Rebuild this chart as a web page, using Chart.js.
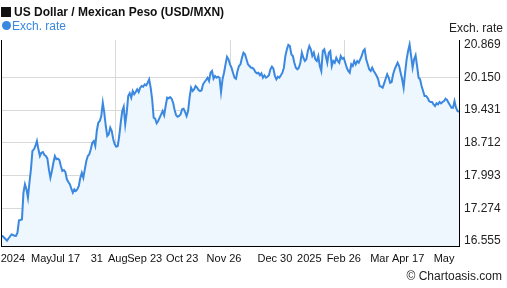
<!DOCTYPE html>
<html>
<head>
<meta charset="utf-8">
<script src="https://cdn.jsdelivr.net/npm/chart.js@4.4.1/dist/chart.umd.min.js"></script>
<style>
  body { margin: 0; background: #fff; font-family: "Liberation Sans", Arial, sans-serif; }
  #wrap { position: relative; width: 507px; height: 288px; }
  .txt { position: absolute; font-size: 12px; line-height: 14px; white-space: nowrap; }
</style>
</head>
<body>
<div id="wrap">
  <canvas id="my-chart" width="507" height="288"></canvas>
  <div class="txt" style="left:1px;top:7px;width:10px;height:10px;background:#111;"></div>
  <div class="txt" style="left:14px;top:5px;font-weight:bold;color:#111;">US Dollar / Mexican Peso (USD/MXN)</div>
  <div class="txt" style="left:2px;top:21px;width:9px;height:9px;border-radius:50%;background:#3a88e0;"></div>
  <div class="txt" style="left:12px;top:19px;color:#3a88e0;">Exch. rate</div>
  <div class="txt" style="right:4px;top:21px;color:#222;">Exch. rate</div>
  <div class="txt" style="right:5px;top:269px;color:#222;">© Chartoasis.com</div>
</div>
<script>
// USD/MXN daily rate
let rates = [
  16.665, 16.665, 16.632, 16.599, 16.562, 16.610, 16.654, 16.698, 16.687, 16.669,
  16.665, 16.737, 17.010, 17.016, 17.031, 17.615, 17.800, 17.690, 17.506, 17.835,
  18.129, 18.531, 18.568, 18.641, 18.750, 18.568, 18.421, 18.494, 18.509, 18.443,
  18.421, 18.362, 18.129, 17.945, 18.092, 18.274, 18.421, 18.349, 18.362, 18.333,
  18.202, 18.092, 18.114, 18.070, 17.910, 17.850, 17.800, 17.703, 17.615, 17.690,
  17.653, 17.690, 17.762, 17.945, 18.054, 17.945, 18.129, 18.311, 18.421, 18.458,
  18.568, 18.713, 18.750, 18.641, 18.970, 19.152, 19.190, 19.299, 19.591, 19.372,
  19.080, 18.860, 18.898, 19.042, 18.970, 18.788, 18.678, 18.625, 18.641, 18.860,
  19.152, 19.409, 19.503, 19.117, 19.372, 19.738, 19.798, 19.701, 19.848, 19.776,
  19.826, 19.885, 19.826, 19.921, 19.958, 19.943, 19.995, 19.973, 20.030, 20.105,
  19.921, 19.666, 19.262, 19.240, 19.139, 19.190, 19.262, 19.337, 19.409, 19.315,
  19.519, 19.701, 19.688, 19.716, 19.679, 19.591, 19.431, 19.315, 19.284, 19.299,
  19.337,
  19.446, 19.460, 19.387, 19.299, 19.409, 19.701, 19.921, 19.848, 19.885, 19.958,
  19.921, 19.870, 19.848, 19.864, 19.995, 20.046, 20.090, 20.140, 20.068, 20.250,
  20.287, 20.118, 20.177, 20.140, 20.162, 20.140, 19.826, 20.105, 20.250, 20.434,
  20.601, 20.544, 20.434, 20.360, 20.250, 20.140, 20.118, 20.287, 20.397, 20.434,
  20.579, 20.689, 20.654, 20.544, 20.434, 20.397, 20.360, 20.360, 20.325, 20.265,
  20.237, 20.250, 20.193, 20.237, 20.140, 20.193, 20.140, 20.162, 20.193, 20.325,
  20.382, 20.338,
  20.177, 20.105, 20.162, 20.140, 20.193, 20.250, 20.360, 20.617, 20.764, 20.860,
  20.836, 20.654, 20.617, 20.469, 20.360, 20.325, 20.360, 20.469, 20.689, 20.579,
  20.507, 20.544, 20.726, 20.836, 20.764, 20.617, 20.689, 20.544, 20.507, 20.617,
  20.397, 20.287, 20.726, 20.764, 20.617, 20.469, 20.689, 20.726, 20.397, 20.507,
  20.469, 20.579, 20.507, 20.469, 20.617, 20.557, 20.579, 20.469, 20.360, 20.287,
  20.250, 20.434, 20.397, 20.507, 20.434, 20.507, 20.469, 20.544, 20.617, 20.726,
  20.764,
  20.544, 20.434, 20.325, 20.287, 20.360, 20.287, 20.237, 20.177, 20.105, 19.958,
  19.943, 19.921, 20.017, 20.118, 20.215, 20.140, 20.030, 20.046, 20.215, 20.325,
  20.397, 20.469, 20.397, 20.250, 20.105, 19.921, 20.250, 20.544, 20.726, 20.869,
  20.617, 20.360, 20.544, 20.632, 20.397, 20.140, 20.105, 19.958, 19.848, 19.738,
  19.738, 19.701, 19.629, 19.607, 19.607, 19.556, 19.519, 19.578, 19.556, 19.607,
  19.578, 19.607, 19.629, 19.679, 19.651, 19.591, 19.534, 19.482, 19.482, 19.629,
  19.482, 19.409, 19.387
];

let xTickLabels = ["2024", "May", "Jul 17", "31", "Aug", "Sep 23", "Oct 23", "Nov 26",
                   "Dec 30", "2025", "Feb 26", "Mar", "Apr 17", "May"];
let xTickIdx = [8, 27, 43, 64, 78, 96, 121, 149, 183, 206, 229, 253, 272, 296];
let yTicks = [16.555, 17.274, 17.993, 18.712, 19.431, 20.150, 20.869];

let last = rates.length - 1;
let gridIdx = [last / 4, last / 2, last * 3 / 4];

let leftBorder = {
  id: 'leftBorder',
  afterDraw(chart) {
    let c = chart.ctx, a = chart.chartArea;
    c.save();
    c.strokeStyle = '#000';
    c.lineWidth = 1;
    c.beginPath();
    c.moveTo(a.left + 0.5, a.top);
    c.lineTo(a.left + 0.5, a.bottom);
    c.stroke();
    c.restore();
  }
};

let ctx = document.getElementById('my-chart').getContext('2d');
let chart = new Chart(ctx, {
  type: 'line',
  data: {
    labels: rates.map((v, i) => i),
    datasets: [{
      data: rates,
      borderColor: '#3a88e0',
      borderWidth: 2,
      backgroundColor: '#eef6fe',
      fill: 'start',
      pointRadius: 0,
      tension: 0
    }]
  },
  options: {
    responsive: false,
    animation: false,
    devicePixelRatio: 1,
    layout: { padding: { top: 40, left: 1, right: 0, bottom: 0 } },
    plugins: { legend: { display: false }, tooltip: { enabled: false }, title: { display: false } },
    scales: {
      x: {
        type: 'linear',
        min: 0,
        max: last,
        grid: { display: false, drawTicks: false },
        border: { display: true, color: '#000', width: 1 },
        afterFit: (s) => { s.height = 42; s.paddingLeft = 0; s.paddingRight = 0; },
        afterBuildTicks: (s) => { s.ticks = xTickIdx.map(v => ({ value: v })); },
        ticks: {
          autoSkip: false,
          maxRotation: 0,
          padding: 6,
          color: '#111',
          font: { family: '"Liberation Sans", Arial, sans-serif', size: 11 },
          callback: (v, i) => xTickLabels[i]
        }
      },
      xg: {
        type: 'linear',
        position: 'bottom',
        min: 0,
        max: last,
        grid: { color: '#d9d9d9', drawTicks: false },
        border: { display: false },
        ticks: { display: false },
        afterFit: (s) => { s.height = 0; s.paddingLeft = 0; s.paddingRight = 0; },
        afterBuildTicks: (s) => { s.ticks = gridIdx.map(v => ({ value: v })); }
      },
      y: {
        position: 'right',
        min: 16.445,
        max: 20.968,
        grid: {
          drawTicks: false,
          color: (c) => (c.index === 0 || c.index === yTicks.length - 1) ? 'rgba(0,0,0,0)' : '#d9d9d9'
        },
        border: { display: true, color: '#000', width: 1 },
        afterFit: (s) => { s.width = 48; },
        afterBuildTicks: (s) => { s.ticks = yTicks.map(v => ({ value: v })); },
        ticks: {
          padding: 5,
          color: '#222',
          font: { family: '"Liberation Sans", Arial, sans-serif', size: 12 },
          callback: (v) => v.toFixed(3)
        }
      }
    }
  },
  plugins: [leftBorder]
});
</script>
</body>
</html>
